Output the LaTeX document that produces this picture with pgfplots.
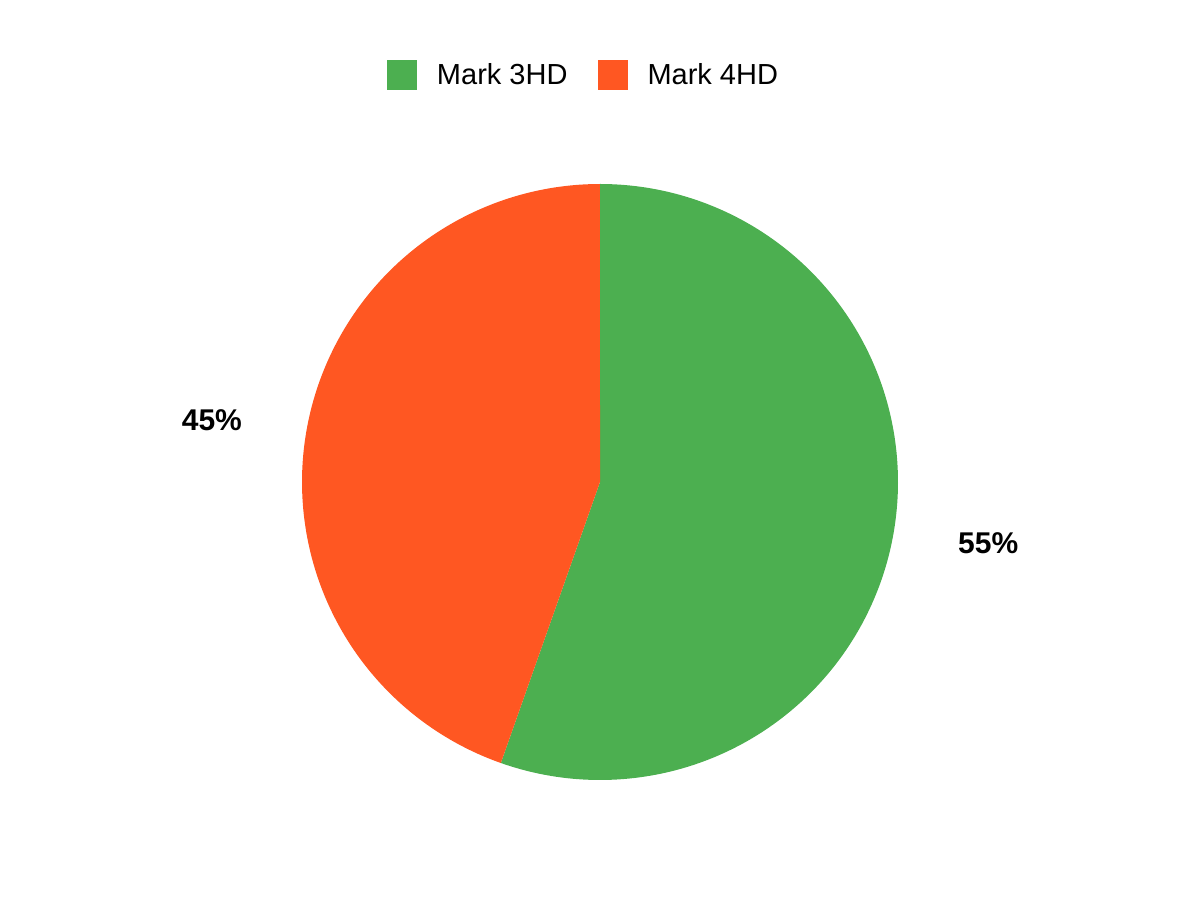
\documentclass[border=0pt]{standalone}
\usepackage{fontspec}
\setmainfont{Liberation Sans}
\usepackage{pgfplots}
\usepackage{pgfplotstable}
\pgfplotsset{compat=1.18}
\definecolor{c3hd}{HTML}{4CAF50}
\definecolor{c4hd}{HTML}{FF5722}

\pgfplotstableread{
model share
{Mark 3HD} 55.4
{Mark 4HD} 44.6
}\pietable

\begin{document}
\begin{tikzpicture}
\pgfplotstablegetelem{0}{share}\of\pietable \let\va\pgfplotsretval
\pgfplotstablegetelem{1}{share}\of\pietable \let\vb\pgfplotsretval
% angles, clockwise from 12 o'clock
\pgfmathsetmacro\aa{90-3.6*\va}
\pgfmathsetmacro\ab{\aa-3.6*\vb}
% labels sit at the middle of the rounded shares
\pgfmathsetmacro\ma{90-1.8*round(\va)}
\pgfmathsetmacro\mb{90-3.6*round(\va)-1.8*round(\vb)}
\pgfmathsetmacro\lax{600+393*cos(\ma)}
\pgfmathsetmacro\lay{418+393*sin(\ma)}
\pgfmathsetmacro\lbx{600+393*cos(\mb)}
\pgfmathsetmacro\lby{418+393*sin(\mb)}
\begin{axis}[
    scale only axis,
    width=600pt, height=450pt,
    xmin=0, xmax=1200, ymin=0, ymax=900,
    hide axis,
    clip=false,
    legend columns=2,
    legend style={at={(387/1200,825/900)}, anchor=west, draw=none, fill=none,
        inner sep=0pt, outer sep=0pt,
        font=\fontsize{14.5}{17}\selectfont,
        nodes={inner sep=0pt},
        /tikz/every odd column/.append style={column sep=10pt},
        /tikz/every even column/.append style={column sep=15pt}},
    legend image code/.code={\fill[#1] (0pt,-7.5pt) rectangle (15pt,7.5pt);},
]
\path (rel axis cs:0,0) (rel axis cs:1,1);
\addplot[fill=c3hd, draw=none, domain=90:\aa, samples=200, variable=\t]
    ({600+298*cos(\t)},{418+298*sin(\t)}) -- (axis cs:600,418) -- cycle;
\addlegendentry{Mark 3HD}
\addplot[fill=c4hd, draw=none, domain=\aa:\ab, samples=200, variable=\t]
    ({600+298*cos(\t)},{418+298*sin(\t)}) -- (axis cs:600,418) -- cycle;
\addlegendentry{Mark 4HD}
\node[font=\fontsize{15}{18}\selectfont\bfseries] at (axis cs:\lax,\lay) {55\%};
\node[font=\fontsize{15}{18}\selectfont\bfseries] at (axis cs:\lbx,\lby) {45\%};
\end{axis}
\end{tikzpicture}
\end{document}
